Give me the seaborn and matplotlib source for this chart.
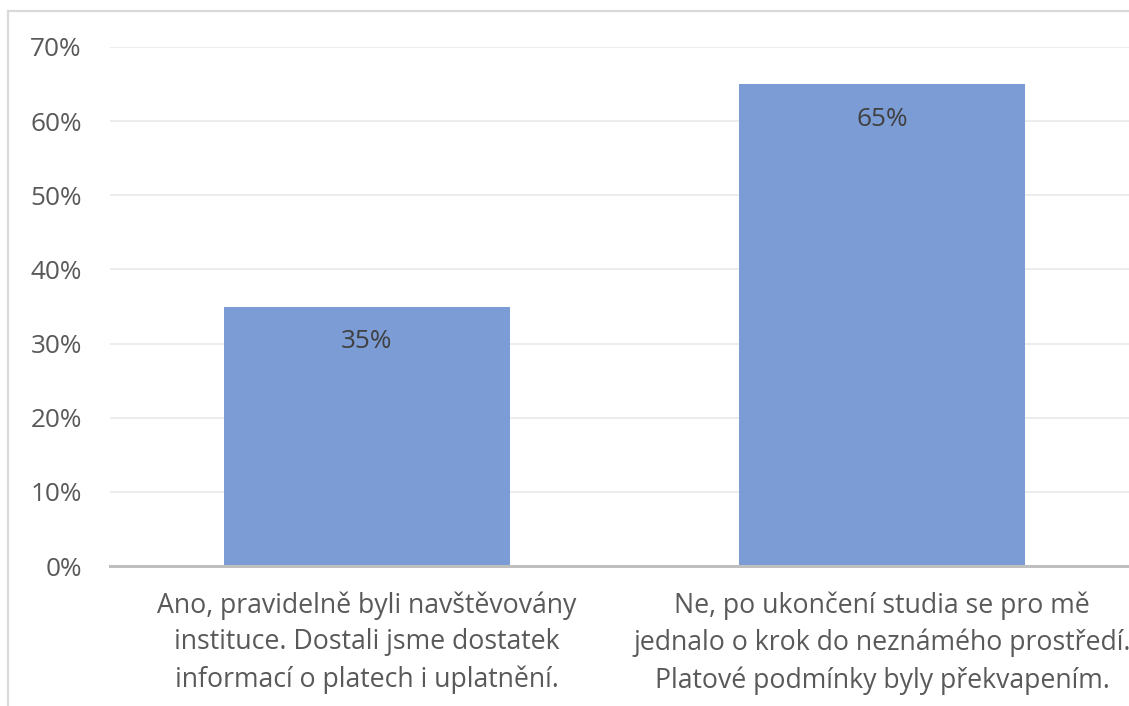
import matplotlib
matplotlib.use("Agg")
import matplotlib.pyplot as plt
import seaborn as sns
import pandas as pd
from matplotlib.patches import Rectangle
from matplotlib.ticker import FuncFormatter, MultipleLocator

categories = [
    "Ano, pravidelně byli navštěvovány\ninstituce. Dostali jsme dostatek\ninformací o platech i uplatnění.",
    "Ne, po ukončení studia se pro mě\njednalo o krok do neznámého prostředí.\nPlatové podmínky byly překvapením.",
]
values = [35, 65]
value_labels = ["35%", "65%"]

sns.set_style("white")
plt.rcParams["font.family"] = ["Open Sans", "DejaVu Sans"]

df = pd.DataFrame({"cat": categories, "val": values})

fig = plt.figure(figsize=(11.29, 7.06), dpi=100)
ax = fig.add_axes([109.5 / 1129, 140 / 706, 1030 / 1129, 519 / 706])

sns.barplot(data=df, x="cat", y="val", color="#7b9cd5", saturation=1,
            width=0.555, ax=ax, zorder=3, linewidth=0)

ax.set_ylim(0, 70)
ax.yaxis.set_major_locator(MultipleLocator(10))
ax.yaxis.set_major_formatter(FuncFormatter(lambda v, p: f"{int(round(v))}%"))
ax.grid(axis="y", color="#ebebeb", linewidth=1.3, zorder=0)
ax.set_axisbelow(True)
ax.set_xlabel("")
ax.set_ylabel("")
for s in ["top", "right", "left"]:
    ax.spines[s].set_visible(False)
ax.spines["bottom"].set_color("#bfbfbf")
ax.spines["bottom"].set_linewidth(2.2)
ax.spines["bottom"].set_zorder(4)
ax.tick_params(axis="y", length=0, pad=20, labelsize=18.8, labelcolor="#595959")
ax.tick_params(axis="x", length=0, pad=18, labelsize=19.2, labelcolor="#595959")
for t in ax.get_xticklabels():
    t.set_linespacing(1.42)

for i, (v, lab) in enumerate(zip(values, value_labels)):
    ax.annotate(lab, xy=(i, v), xytext=(0, -25.5), textcoords="offset points",
                ha="center", va="center", fontsize=18.8, color="#404040", zorder=5)

fig.patches.append(Rectangle((8 / 1129, -0.2), 1.2, 1.2 - 11 / 706,
                             transform=fig.transFigure, fill=False,
                             edgecolor="#d9d9d9", linewidth=1.6, zorder=0))

fig.savefig("out.png", dpi=100)
